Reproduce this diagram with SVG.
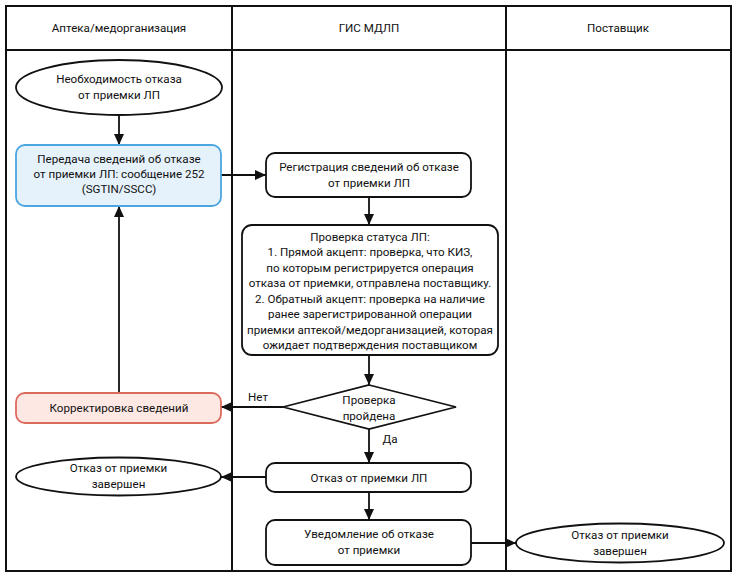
<svg xmlns="http://www.w3.org/2000/svg" width="738" height="578" viewBox="0 0 738 578">
<defs>
<style>
text{font-family:Roboto,"Liberation Sans","Noto Sans",sans-serif;font-size:11.6px;fill:#111;text-anchor:middle}
.frame{fill:none;stroke:#111;stroke-width:2}
.node{fill:#fff;stroke:#111;stroke-width:1.8}
.blue{fill:#e6f2fb;stroke:#4ba6e0;stroke-width:1.8}
.red{fill:#fde8e4;stroke:#dc6a5c;stroke-width:1.8}
.edge{fill:none;stroke:#111;stroke-width:1.8;marker-end:url(#arr)}
</style>
<marker id="arr" markerUnits="userSpaceOnUse" markerWidth="12" markerHeight="10" refX="11" refY="5" orient="auto">
<path d="M0,0 L11,5 L0,10 Z" fill="#111"/>
</marker>
</defs>
<rect x="0" y="0" width="738" height="578" fill="#fff"/>
<g id="lanes">
<rect class="frame" x="6" y="6" width="725" height="565"/>
<line class="frame" x1="6" y1="50" x2="731" y2="50"/>
<line class="frame" x1="232" y1="6" x2="232" y2="571"/>
<line class="frame" x1="506" y1="6" x2="506" y2="571"/>
<text x="119" y="32">Аптека/медорганизация</text>
<text x="369" y="32">ГИС МДЛП</text>
<text x="618" y="32">Поставщик</text>
</g>
<g id="connectors">
<line class="edge" x1="119" y1="115" x2="119" y2="145"/>
<line class="edge" x1="221" y1="175" x2="266" y2="175"/>
<line class="edge" x1="369" y1="197" x2="369" y2="225"/>
<line class="edge" x1="369" y1="355" x2="369" y2="385"/>
<line class="edge" x1="283" y1="407" x2="221" y2="407"/>
<line class="edge" x1="119" y1="393" x2="119" y2="206"/>
<line class="edge" x1="369" y1="429" x2="369" y2="463"/>
<line class="edge" x1="266" y1="477" x2="221" y2="477"/>
<line class="edge" x1="369" y1="492" x2="369" y2="520"/>
<line class="edge" x1="471" y1="543" x2="516" y2="543"/>
<text x="258" y="401">Нет</text>
<text x="390" y="443">Да</text>
</g>
<g id="start">
<ellipse class="node" cx="119" cy="87.5" rx="103" ry="27.5"/>
<text x="119" y="83">Необходимость отказа</text>
<text x="119" y="99">от приемки ЛП</text>
</g>
<g id="send">
<rect class="blue" x="16" y="145" width="205" height="61" rx="9"/>
<text x="119" y="163">Передача сведений об отказе</text>
<text x="119" y="178">от приемки ЛП: сообщение 252</text>
<text x="119" y="193">(SGTIN/SSCC)</text>
</g>
<g id="register">
<rect class="node" x="266" y="153" width="205" height="44" rx="9"/>
<text x="369" y="171">Регистрация сведений об отказе</text>
<text x="369" y="187">от приемки ЛП</text>
</g>
<g id="check">
<rect class="node" x="242" y="225" width="256" height="130" rx="10"/>
<text x="370" y="241">Проверка статуса ЛП:</text>
<text x="370" y="256">1. Прямой акцепт: проверка, что КИЗ,</text>
<text x="370" y="272">по которым регистрируется операция</text>
<text x="370" y="287">отказа от приемки, отправлена поставщику.</text>
<text x="370" y="303">2. Обратный акцепт: проверка на наличие</text>
<text x="370" y="318">ранее зарегистрированной операции</text>
<text x="370" y="334">приемки аптекой/медорганизацией, которая</text>
<text x="370" y="349">ожидает подтверждения поставщиком</text>
</g>
<g id="decision">
<polygon class="node" points="369,385 456,407 369,429 283,407"/>
<text x="369" y="404">Проверка</text>
<text x="369" y="420">пройдена</text>
</g>
<g id="correct">
<rect class="red" x="16" y="393" width="205" height="30" rx="9"/>
<text x="119" y="412">Корректировка сведений</text>
</g>
<g id="reject">
<rect class="node" x="266" y="463" width="205" height="29" rx="9"/>
<text x="369" y="482">Отказ от приемки ЛП</text>
</g>
<g id="done-left">
<ellipse class="node" cx="118.5" cy="476.5" rx="102.5" ry="19"/>
<text x="118.5" y="472">Отказ от приемки</text>
<text x="118.5" y="488">завершен</text>
</g>
<g id="notify">
<rect class="node" x="266" y="520" width="205" height="45" rx="9"/>
<text x="369" y="538">Уведомление об отказе</text>
<text x="369" y="554">от приемки</text>
</g>
<g id="done-right">
<ellipse class="node" cx="620" cy="543" rx="104" ry="19.5"/>
<text x="620" y="539">Отказ от приемки</text>
<text x="620" y="555">завершен</text>
</g>
</svg>
